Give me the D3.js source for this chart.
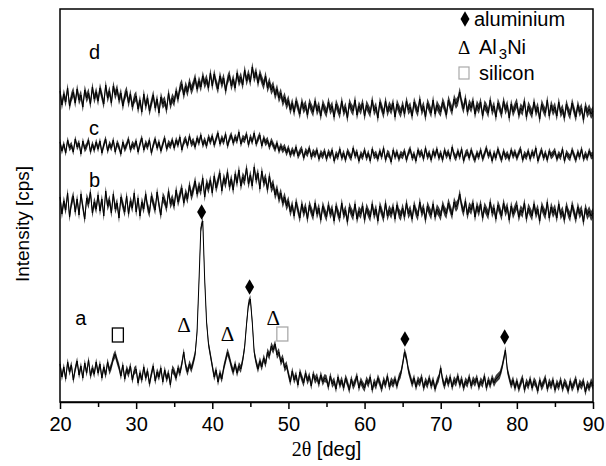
<!DOCTYPE html>
<meta charset="utf-8">
<head>
    <style>
     body { margin: 0; background: #fff; }
     svg text { font-family: "Liberation Sans", Arial, sans-serif; fill: #000; }
     .serif { font-family: "Liberation Serif", "Times New Roman", serif; }
    </style>
</head>
<body>
<div id="chart"></div>
<script src="https://d3js.org/d3.v7.min.js"></script>
<script>

 // 2theta sampled every 0.25 deg, 20..90
 var twoTheta = d3.range(20, 90.001, 0.25);

 // intensities (arbitrary units, curves already offset)
 var traceA = [
     38, 25, 35, 23, 40, 30, 37, 22, 33, 41, 27, 36, 24, 39, 29, 42, 26, 34, 28, 40,
     29, 38, 24, 35, 27, 40, 31, 36, 44, 48, 41, 35, 26, 37, 23, 33, 28, 36, 22, 31,
     33, 19, 29, 22, 35, 24, 31, 18, 28, 36, 21, 30, 25, 34, 20, 32, 23, 29, 17, 33,
     30, 24, 34, 29, 38, 50, 36, 30, 38, 33, 40, 48, 70, 120, 174, 181, 123, 80, 58, 47,
     36, 25, 32, 20, 29, 23, 34, 42, 50, 44, 36, 30, 38, 29, 36, 33, 42, 55, 78, 98,
     103, 80, 50, 40, 33, 41, 35, 44, 38, 50, 46, 56, 52, 58, 47, 50, 40, 44, 34, 37,
     28, 20, 31, 22, 27, 17, 30, 24, 19, 29, 21, 26, 16, 28, 22, 25, 18, 27, 20, 24,
     23, 15, 26, 18, 21, 13, 25, 17, 22, 14, 24, 19, 12, 23, 16, 20, 26, 14, 21, 17,
     14, 22, 18, 25, 12, 20, 16, 24, 19, 13, 22, 17, 26, 15, 21, 18, 23, 16, 24, 28,
     38, 50, 44, 32, 25, 18, 24, 15, 22, 19, 25, 14, 21, 17, 24, 16, 22, 13, 20, 24,
     34, 22, 16, 24, 18, 25, 15, 22, 19, 26, 17, 23, 14, 21, 18, 25, 16, 22, 19, 24,
     15, 21, 18, 26, 14, 22, 17, 24, 19, 23, 25, 27, 33, 42, 52, 32, 24, 17, 22, 14,
     21, 13, 19, 24, 12, 20, 16, 23, 14, 21, 18, 11, 22, 15, 19, 24, 13, 20, 16, 22,
     12, 19, 15, 22, 13, 20, 17, 11, 21, 14, 18, 23, 12, 19, 16, 21, 10, 18, 14, 20,
     16];

 var traceB = [
     205, 188, 201, 192, 209, 185, 199, 206, 190, 203, 187, 208, 195, 183, 204, 198, 210, 189, 200, 193,
     207, 191, 203, 186, 211, 196, 202, 189, 208, 193, 199, 184, 205, 197, 190, 206, 188, 201, 194, 209,
     190, 204, 186, 200, 193, 208, 195, 189, 206, 199, 192, 210, 197, 187, 205, 201, 194, 211, 198, 203,
     196, 212, 200, 207, 214, 199, 209, 203, 217, 206, 212, 221, 208, 216, 211, 224, 205, 219, 213, 222,
     209, 226, 214, 221, 229, 211, 224, 218, 230, 215, 223, 212, 228, 219, 232, 216, 225, 221, 234, 218,
     227, 216, 235, 222, 229, 213, 231, 219, 224, 212, 226, 214, 218, 207, 213, 203, 209, 199, 205, 196,
     201, 190, 197, 186, 200, 192, 184, 198, 189, 195, 183, 197, 191, 186, 199, 188, 194, 182, 196, 190,
     185, 197, 188, 193, 181, 196, 189, 184, 199, 187, 192, 180, 195, 190, 186, 198, 183, 191, 188, 196,
     182, 194, 189, 185, 198, 187, 193, 181, 196, 190, 184, 199, 186, 192, 188, 195, 183, 197, 189, 186,
     194, 185, 199, 188, 192, 183, 197, 190, 186, 200, 189, 194, 182, 196, 191, 187, 198, 185, 193, 190,
     186, 197, 191, 188, 199, 193, 187, 200, 195, 198, 208, 196, 190, 201, 187, 195, 192, 199, 185, 196,
     190, 198, 184, 195, 191, 187, 200, 189, 194, 183, 197, 192, 186, 199, 190, 195, 182, 196, 188, 193,
     197, 185, 192, 189, 199, 183, 194, 190, 186, 198, 188, 193, 181, 196, 191, 187, 200, 184, 195, 189,
     193, 184, 198, 187, 191, 182, 196, 189, 185, 197, 190, 183, 195, 188, 192, 180, 194, 187, 191, 186,
     189];

 var traceC = [
     260, 251, 258, 249, 262, 254, 257, 250, 263, 255, 259, 248, 261, 253, 256, 262, 250, 258, 252, 260,
     253, 261, 249, 257, 263, 251, 258, 254, 262, 250, 259, 255, 248, 260, 253, 257, 263, 252, 258, 255,
     261, 250, 258, 264, 252, 259, 255, 262, 249, 257, 263, 254, 260, 251, 258, 264, 253, 259, 256, 262,
     254, 262, 257, 265, 252, 260, 263, 256, 266, 258, 261, 255, 264, 259, 267, 257, 262, 256, 265, 260,
     266, 257, 263, 269, 258, 264, 260, 268, 256, 263, 267, 259, 265, 261, 270, 258, 264, 262, 268, 257,
     265, 260, 269, 258, 263, 267, 256, 264, 259, 262, 255, 261, 257, 253, 259, 251, 256, 252, 255, 249,
     254, 247, 252, 248, 255, 246, 250, 253, 244, 251, 248, 254, 245, 250, 247, 252, 243, 249, 246, 251,
     243, 250, 246, 252, 241, 248, 245, 253, 244, 249, 242, 251, 247, 244, 254, 246, 250, 241, 248, 245,
     252, 244, 249, 241, 253, 246, 248, 243, 251, 245, 254, 242, 249, 247, 240, 252, 245, 250, 243, 248,
     246, 251, 242, 249, 253, 244, 248, 241, 252, 247, 250, 243, 254, 245, 249, 242, 251, 246, 253, 244,
     249, 242, 252, 246, 250, 243, 255, 247, 244, 251, 245, 253, 241, 248, 250, 244, 252, 246, 242, 249,
     245, 252, 243, 248, 254, 246, 250, 241, 249, 244, 253, 247, 242, 251, 245, 248, 243, 252, 246, 250,
     244, 249, 253, 242, 248, 245, 251, 243, 250, 246, 254, 241, 247, 252, 244, 249, 242, 251, 246, 248,
     251, 243, 248, 245, 253, 241, 249, 246, 244, 252, 247, 242, 250, 245, 253, 243, 248, 244, 251, 246,
     247];

 var traceD = [
     311, 297, 308, 300, 314, 296, 305, 310, 299, 313, 302, 307, 295, 312, 304, 309, 298, 315, 303, 310,
     301, 314, 306, 298, 317, 304, 311, 299, 316, 307, 313, 302, 309, 296, 306, 311, 299, 308, 295, 303,
     306, 293, 302, 290, 308, 296, 304, 291, 299, 307, 294, 303, 289, 305, 298, 301, 292, 309, 297, 304,
     300, 311, 303, 314, 318, 307, 316, 310, 320, 312, 317, 324, 313, 321, 315, 326, 318, 323, 314, 329,
     316, 328, 319, 313, 326, 318, 324, 311, 322, 327, 316, 323, 314, 329, 320, 325, 317, 332, 321, 328,
     320, 335, 324, 330, 319, 328, 322, 317, 326, 314, 320, 312, 316, 307, 313, 304, 309, 300, 305, 297,
     302, 292, 299, 290, 301, 295, 288, 300, 293, 297, 287, 299, 294, 290, 301, 291, 296, 286, 298, 293,
     289, 300, 292, 296, 285, 298, 293, 288, 301, 290, 295, 284, 299, 294, 291, 302, 287, 296, 292, 299,
     286, 297, 293, 289, 302, 291, 295, 284, 300, 294, 288, 301, 290, 296, 292, 299, 285, 298, 293, 289,
     297, 288, 301, 292, 295, 286, 300, 294, 290, 303, 291, 296, 285, 299, 294, 289, 302, 288, 297, 293,
     290, 300, 295, 287, 302, 296, 291, 303, 298, 301, 310, 299, 293, 304, 290, 298, 294, 301, 288, 297,
     293, 300, 286, 297, 294, 289, 302, 291, 296, 285, 299, 294, 288, 301, 292, 297, 284, 298, 290, 295,
     299, 287, 294, 291, 301, 285, 296, 292, 288, 300, 290, 295, 283, 298, 293, 289, 302, 286, 297, 291,
     295, 286, 300, 289, 293, 284, 298, 291, 287, 299, 292, 285, 297, 290, 294, 282, 296, 289, 293, 288,
     291];

 var traceNames = ["a", "b", "c", "d"];
 var traceLabelPos = [[22.0, 77], [23.8, 215], [23.8, 267], [23.8, 343]];

 // peak markers: [2theta, intensity]
 var aluminiumPeaks = [[38.6, 190], [44.9, 115], [65.3, 63], [78.4, 65]];
 var al3niPeaks = [[36.3, 77], [42.0, 68], [48.0, 84]];
 var siliconPeaks = [[27.6, 67, "#000"], [49.2, 68, "#aaa"]];

 var xTicks = [20, 30, 40, 50, 60, 70, 80, 90];
 var xMinorTicks = [25, 35, 45, 55, 65, 75, 85];

 var width = 606, height = 466;
 var margin = {left: 60, right: 13, top: 9, bottom: 64};

 var svg = d3.select("#chart").append("svg")
             .attr("width", width)
             .attr("height", height);

 var x = d3.scaleLinear().domain([20, 90]).range([margin.left, width - margin.right]);
 var y = d3.scaleLinear().domain([0, 393]).range([height - margin.bottom, margin.top]);

 var line = d3.line()
              .x((d, i) => x(twoTheta[i]))
              .y(d => y(d));

 // the noisy trace is drawn as a thin ribbon (the scan noise blurs into a band)
 function ribbon(hw) {
     return d3.area()
              .x((d, i) => x(twoTheta[i]))
              .y0(d => y(d - hw))
              .y1(d => y(d + hw));
 }

 var g = svg.append("g");
 [[traceA, 4], [traceB, 5], [traceC, 3.5], [traceD, 5]].forEach(function(t) {
     g.append("path")
      .datum(t[0])
      .attr("fill", "#3c3c3c")
      .attr("d", ribbon(t[1]));
     g.append("path")
      .datum(t[0])
      .attr("fill", "none")
      .attr("stroke", "#000")
      .attr("stroke-width", 1)
      .attr("d", line);
 });

 // frame
 svg.append("rect")
    .attr("x", x(20)).attr("y", y(393))
    .attr("width", x(90) - x(20)).attr("height", y(0) - y(393))
    .attr("fill", "none").attr("stroke", "#000").attr("stroke-width", 1.5);

 // x axis
 var xAxis = svg.append("g")
                .attr("transform", `translate(0,${y(0)})`)
                .call(d3.axisBottom(x).tickValues(xTicks).tickSize(7).tickSizeOuter(0).tickPadding(8));
 xAxis.select(".domain").attr("stroke-width", 1.5);
 xAxis.selectAll(".tick line").attr("stroke-width", 1.5);
 xAxis.selectAll(".tick text")
      .style("font-family", '"Liberation Sans", Arial, sans-serif')
      .style("font-size", "20px");
 svg.append("g")
    .attr("transform", `translate(0,${y(0)})`)
    .call(d3.axisBottom(x).tickValues(xMinorTicks).tickSize(5).tickSizeOuter(0).tickFormat(""))
    .call(s => s.select(".domain").remove())
    .selectAll(".tick line").attr("stroke-width", 1.5);

 // axis titles
 var xt = svg.append("text")
             .attr("x", x(55)).attr("y", 456)
             .attr("text-anchor", "middle")
             .style("font-size", "20px");
 xt.append("tspan").attr("class", "serif").text("2\u03b8");
 xt.append("tspan").text(" [deg]");

 svg.append("text")
    .attr("transform", "translate(29,224) rotate(-90)")
    .attr("text-anchor", "middle")
    .style("font-size", "19px")
    .text("Intensity [cps]");

 // trace letters
 svg.selectAll(".trlabel")
    .data(traceNames)
    .join("text")
    .attr("class", "trlabel")
    .attr("x", (d, i) => x(traceLabelPos[i][0]))
    .attr("y", (d, i) => y(traceLabelPos[i][1]))
    .style("font-size", "20px")
    .text(d => d);

 // markers
 var diamond = d3.symbol().type(d3.symbolDiamond).size(70);
 svg.selectAll(".alpk")
    .data(aluminiumPeaks)
    .join("path")
    .attr("transform", d => `translate(${x(d[0])},${y(d[1])})`)
    .attr("d", diamond)
    .attr("fill", "#000");

 svg.selectAll(".nipk")
    .data(al3niPeaks)
    .join("text")
    .attr("class", "serif")
    .attr("x", d => x(d[0])).attr("y", d => y(d[1]) + 7)
    .attr("text-anchor", "middle")
    .style("font-size", "21px")
    .text("\u0394");

 svg.selectAll(".sipk")
    .data(siliconPeaks)
    .join("rect")
    .attr("x", d => x(d[0]) - 5.5).attr("y", d => y(d[1]) - 7)
    .attr("width", 11).attr("height", 14)
    .attr("fill", "none")
    .attr("stroke", d => d[2])
    .attr("stroke-width", 1.3);

 // legend
 var lg = svg.append("g").attr("transform", "translate(463,0)");
 lg.append("path").attr("transform", "translate(2,19)").attr("d", diamond).attr("fill", "#000");
 lg.append("text").attr("x", 11).attr("y", 26).style("font-size", "20px").text("aluminium");
 lg.append("text").attr("class", "serif").attr("x", 1).attr("y", 54)
   .attr("text-anchor", "middle").style("font-size", "19px").text("\u0394");
 var t2 = lg.append("text").attr("x", 16).attr("y", 54).style("font-size", "20px");
 t2.append("tspan").text("Al");
 t2.append("tspan").attr("dy", 5).attr("dx", 2).style("font-size", "15px").text("3");
 t2.append("tspan").attr("dy", -5).text("Ni");
 lg.append("rect").attr("x", -4).attr("y", 67).attr("width", 10).attr("height", 12)
   .attr("fill", "none").attr("stroke", "#aaa").attr("stroke-width", 1.2);
 lg.append("text").attr("x", 16).attr("y", 80).style("font-size", "20px").text("silicon");

</script>
</body>
